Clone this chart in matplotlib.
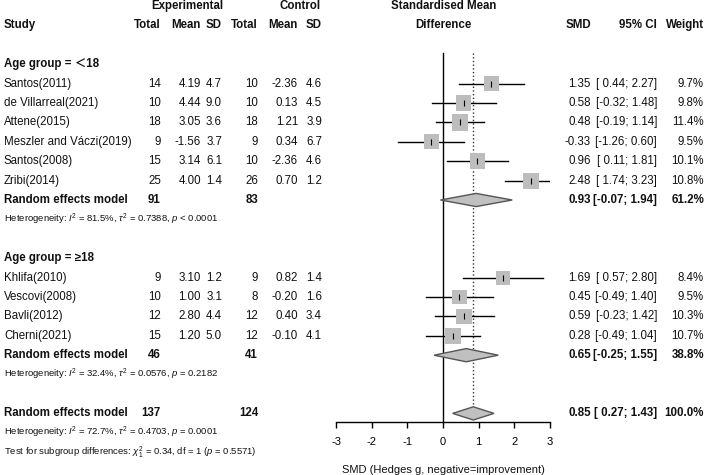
import numpy as np
import matplotlib.pyplot as plt

plt.rcParams['font.family'] = ['Liberation Sans', 'Noto Sans CJK SC', 'DejaVu Sans']
plt.rcParams['mathtext.fontset'] = 'custom'
plt.rcParams['mathtext.rm'] = 'Liberation Sans'
plt.rcParams['mathtext.it'] = 'Liberation Sans:italic'
plt.rcParams['mathtext.bf'] = 'Liberation Sans:bold'
plt.rcParams['axes.unicode_minus'] = False

# data
groups = ["Age group = \uff1c18", "Age group = \u226518"]
studies = [["Santos(2011)", "de Villarreal(2021)", "Attene(2015)", "Meszler and Váczi(2019)",
            "Santos(2008)", "Zribi(2014)"],
           ["Khlifa(2010)", "Vescovi(2008)", "Bavli(2012)", "Cherni(2021)"]]
e_n = [[14, 10, 18, 9, 15, 25], [9, 10, 12, 15]]
e_mean = [[4.19, 4.44, 3.05, -1.56, 3.14, 4.00], [3.10, 1.00, 2.80, 1.20]]
e_sd = [[4.7, 9.0, 3.6, 3.7, 6.1, 1.4], [1.2, 3.1, 4.4, 5.0]]
c_n = [[10, 10, 18, 9, 10, 26], [9, 8, 12, 12]]
c_mean = [[-2.36, 0.13, 1.21, 0.34, -2.36, 0.70], [0.82, -0.20, 0.40, -0.10]]
c_sd = [[4.6, 4.5, 3.9, 6.7, 4.6, 1.2], [1.4, 1.6, 3.4, 4.1]]
smd = [[1.35, 0.58, 0.48, -0.33, 0.96, 2.48], [1.69, 0.45, 0.59, 0.28]]
lo = [[0.44, -0.32, -0.19, -1.26, 0.11, 1.74], [0.57, -0.49, -0.23, -0.49]]
hi = [[2.27, 1.48, 1.14, 0.60, 1.81, 3.23], [2.80, 1.40, 1.42, 1.04]]
weight = [[9.7, 9.8, 11.4, 9.5, 10.1, 10.8], [8.4, 9.5, 10.3, 10.7]]

sub_n = [(91, 83), (46, 41)]
sub_smd = [0.93, 0.65]
sub_lo = [-0.07, -0.25]
sub_hi = [1.94, 1.55]
sub_w = [61.2, 38.8]
sub_het = [("81.5%", "0.7388", "< 0.0001"), ("32.4%", "0.0576", "= 0.2182")]

tot_n = (137, 124)
tot_smd, tot_lo, tot_hi = 0.85, 0.27, 1.43
tot_het = ("72.7%", "0.4703", "= 0.0001")
test_sub = ("0.34", "1", "0.5571")

# layout
fig = plt.figure(figsize=(7.08, 4.75), dpi=100)
ylim = ((475 - 6) / 19.4, -6 / 19.4)
ax = fig.add_axes([0, 0, 1, 1])
ax.set_xlim(0, 708)
ax.set_ylim(*ylim)
ax.axis('off')
fx = fig.add_axes([336 / 708, 0, 214 / 708, 1])
fx.set_xlim(-3, 3)
fx.set_ylim(*ylim)
fx.patch.set_alpha(0)

fs = 8.3
fs_small = 6.8
col = dict(study=4, en=161, em=201, es=222, cn=258, cm=298, cs=322, smd=591, ci=657, w=704)


def ci_txt(a, b):
    return "[%s; %s]" % (("%.2f" % a) if a < 0 else " %.2f" % a, "%.2f" % b)


def txt(x, y, s, ha='right', bold=False, size=fs):
    ax.text(x, y, s, ha=ha, va='center', fontsize=size,
            fontweight='bold' if bold else 'normal', color='#111111')


# headers
txt(187, 0, "Experimental", ha='center', bold=True)
txt(300, 0, "Control", ha='center', bold=True)
txt(444, 0, "Standardised Mean", ha='center', bold=True)
txt(col['study'], 1, "Study", ha='left', bold=True)
for k, s in [('en', "Total"), ('em', "Mean"), ('es', "SD"), ('cn', "Total"),
             ('cm', "Mean"), ('cs', "SD"), ('smd', "SMD"), ('ci', "95% CI"), ('w', "Weight")]:
    txt(col[k], 1, s, bold=True)
txt(443, 1, "Difference", ha='center', bold=True)

row = 3
for g in range(2):
    txt(col['study'], row, groups[g], ha='left', bold=True)
    row += 1
    for i in range(len(studies[g])):
        txt(col['study'], row, studies[g][i], ha='left')
        txt(col['en'], row, str(e_n[g][i]))
        txt(col['em'], row, "%.2f" % e_mean[g][i])
        txt(col['es'], row, "%.1f" % e_sd[g][i])
        txt(col['cn'], row, str(c_n[g][i]))
        txt(col['cm'], row, "%.2f" % c_mean[g][i])
        txt(col['cs'], row, "%.1f" % c_sd[g][i])
        txt(col['smd'], row, "%.2f" % smd[g][i])
        txt(col['ci'], row, ci_txt(lo[g][i], hi[g][i]))
        txt(col['w'], row, "%.1f%%" % weight[g][i])
        fx.plot([lo[g][i], hi[g][i]], [row, row], color='black', lw=1, zorder=2)
        fx.scatter([smd[g][i]], [row], marker='s', s=12.2 * weight[g][i],
                   color='#bdbdbd', edgecolors='none', zorder=3)
        fx.plot([smd[g][i]], [row], marker='|', ms=4, color='black', mew=0.8, zorder=4)
        row += 1
    txt(col['study'], row, "Random effects model", ha='left', bold=True)
    txt(col['en'], row, str(sub_n[g][0]), bold=True)
    txt(col['cn'], row, str(sub_n[g][1]), bold=True)
    txt(col['smd'], row, "%.2f" % sub_smd[g], bold=True)
    txt(col['ci'], row, ci_txt(sub_lo[g], sub_hi[g]), bold=True)
    txt(col['w'], row, "%.1f%%" % sub_w[g], bold=True)
    h = 0.34
    fx.fill([sub_lo[g], sub_smd[g], sub_hi[g], sub_smd[g]], [row, row - h, row, row + h],
            facecolor='#c0c0c0', edgecolor='#555555', lw=1, zorder=3)
    row += 1
    i2, t2, p = sub_het[g]
    txt(col['study'], row, r"Heterogeneity: $I^2$ = %s, $\tau^2$ = %s, $p$ %s" % (i2, t2, p),
        ha='left', size=fs_small)
    row += 2

# overall
txt(col['study'], row, "Random effects model", ha='left', bold=True)
txt(col['en'], row, str(tot_n[0]), bold=True)
txt(col['cn'], row, str(tot_n[1]), bold=True)
txt(col['smd'], row, "%.2f" % tot_smd, bold=True)
txt(col['ci'], row, ci_txt(tot_lo, tot_hi), bold=True)
txt(col['w'], row, "100.0%", bold=True)
fx.fill([tot_lo, tot_smd, tot_hi, tot_smd], [row, row - 0.34, row, row + 0.34],
        facecolor='#c0c0c0', edgecolor='#555555', lw=1, zorder=3)
txt(col['study'], row + 1, r"Heterogeneity: $I^2$ = %s, $\tau^2$ = %s, $p$ %s" % tot_het,
    ha='left', size=fs_small)
txt(col['study'], row + 2, r"Test for subgroup differences: $\chi^2_1$ = %s, df = %s ($p$ = %s)" % test_sub,
    ha='left', size=fs_small)

axis_row = 21.45
fx.plot([0, 0], [2.4, axis_row], color='black', lw=1, zorder=1)
fx.plot([tot_smd, tot_smd], [2.4, row - 0.34], color='#333333', lw=1, ls=':', zorder=1)

for s in ['top', 'left', 'right']:
    fx.spines[s].set_visible(False)
fx.spines['bottom'].set_position(('data', axis_row))
fx.spines['bottom'].set_linewidth(1)
fx.set_yticks([])
fx.set_xticks([-3, -2, -1, 0, 1, 2, 3])
fx.tick_params(axis='x', direction='out', length=4.5, width=1, labelsize=8, pad=6)
txt(443, 23.9, "SMD (Hedges g, negative=improvement)", ha='center', size=8)

fig.savefig('out.png', dpi=100)
